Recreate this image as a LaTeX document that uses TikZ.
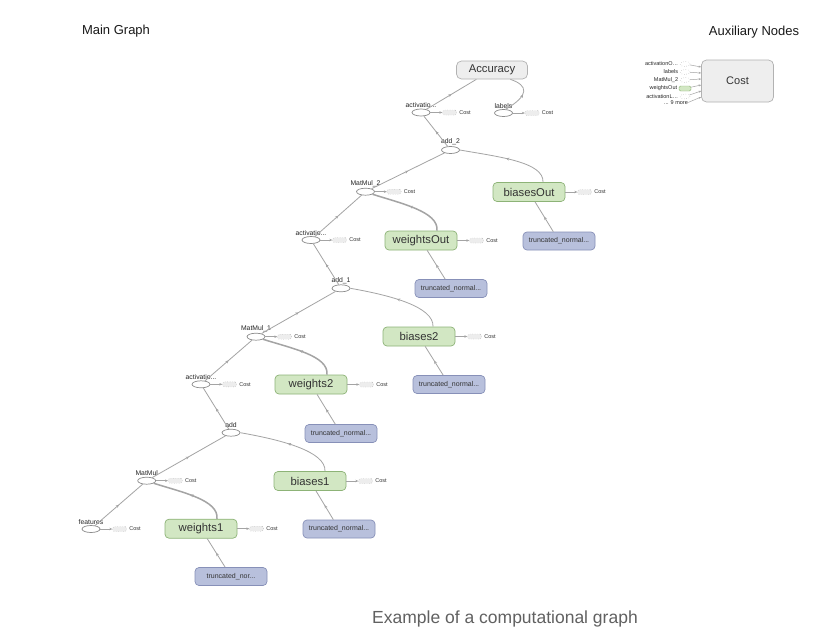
\documentclass[tikz,border=0pt]{standalone}
\usepackage{fontspec}
\setmainfont{Liberation Sans}
\usetikzlibrary{arrows.meta, positioning, calc, shapes.geometric, decorations.markings}

\definecolor{edgecol}{HTML}{A4A4A4}
\definecolor{opline}{HTML}{8C8C8C}
\definecolor{varfill}{HTML}{D2E7C3}
\definecolor{varline}{HTML}{8DB377}
\definecolor{initfill}{HTML}{B8C0DC}
\definecolor{initline}{HTML}{8790B8}
\definecolor{accfill}{HTML}{EEEEEE}
\definecolor{accline}{HTML}{B2B2B2}
\colorlet{costline}{black!40}
\colorlet{costfill}{black!7}
\colorlet{captioncol}{black!62}

\tikzset{
  every node/.style={font=\fontsize{6}{7}\selectfont},
  opnode/.style={ellipse, draw=opline, fill=white, line width=0.7pt,
    minimum width=18pt, minimum height=7pt, inner sep=0pt},
  oplabel/.style={font=\fontsize{6.8}{7}\selectfont, inner sep=0.8pt, text=black!85},
  accnode/.style={rectangle, rounded corners=5pt, draw=accline, fill=accfill,
    line width=0.7pt, minimum width=71pt, minimum height=18pt, inner sep=0pt,
    font=\fontsize{11.3}{12}\selectfont, text=black!80},
  varnode/.style={rectangle, rounded corners=4pt, draw=varline, fill=varfill,
    line width=0.7pt, minimum width=72pt, minimum height=19pt, inner sep=0pt,
    font=\fontsize{11.3}{12}\selectfont, text=black!80},
  initnode/.style={rectangle, rounded corners=4pt, draw=initline, fill=initfill,
    line width=0.7pt, minimum width=72pt, minimum height=18pt, inner sep=0pt,
    font=\fontsize{7}{8}\selectfont, text=black!80},
  costbox/.style={rectangle, draw=costline, dotted, fill=costfill,
    rounded corners=1.5pt, minimum width=14pt, minimum height=5pt, inner sep=0pt},
  costtext/.style={font=\fontsize{5.5}{6}\selectfont, inner sep=0pt, text=black!80},
  flow/.style={draw=edgecol, line width=0.8pt, postaction={decorate},
    decoration={markings, mark=at position 0.5 with
      {\arrow{Stealth[length=3pt, width=3pt]}}}},
  wflow/.style={flow, line width=1.5pt},
  costflow/.style={draw=edgecol, line width=0.6pt, -{Stealth[length=3pt, width=2.5pt]}},
  auxbox/.style={rectangle, rounded corners=5pt, draw=accline, fill=accfill,
    line width=0.7pt, minimum width=72pt, minimum height=42pt, inner sep=0pt,
    font=\fontsize{11}{12}\selectfont, text=black!80},
  auxop/.style={ellipse, draw=costline, dotted, fill=white,
    minimum width=10pt, minimum height=5pt, inner sep=0pt},
  auxvar/.style={rectangle, rounded corners=1.5pt, draw=varline, fill=varfill,
    minimum width=12pt, minimum height=5pt, inner sep=0pt},
  auxtext/.style={font=\fontsize{5.5}{6}\selectfont, inner sep=0pt, text=black!85},
  auxflow/.style={draw=edgecol, line width=0.5pt, -{Stealth[length=2.5pt, width=2pt]}},
  titletext/.style={font=\fontsize{13}{15}\selectfont, text=black!90},
  captiontext/.style={font=\fontsize{17.5}{20}\selectfont, text=captioncol}
}

\begin{document}
\begin{tikzpicture}[x=1pt, y=1pt]

\useasboundingbox[fill=white] (0,0) rectangle (840,-637);

% Titles
\node[titletext] (maintitle) at (116,-31) {Main Graph};
\node[titletext] (auxtitle) at (754,-32) {Auxiliary Nodes};
\node[captiontext] (caption) at (505,-619) {Example of a computational graph};

% Output
\node[accnode] (acc) at (492,-70) {Accuracy};
\node[opnode, label={[oplabel]above:activatio...}] (act3) at (421,-112.5) {};
\node[opnode, label={[oplabel]above:labels}] (lbl) at (503.5,-113) {};
\node[opnode, label={[oplabel]above:add\_2}] (add2) at (450.5,-150) {};

% Output layer
\node[opnode, label={[oplabel]above:MatMul\_2}] (mm2) at (365.5,-191.7) {};
\node[varnode] (bo) at (529,-192) {biasesOut};
\node[initnode] (tnbo) at (559,-241) {truncated\_normal...};
\node[opnode, label={[oplabel]above:activatio...}] (act2) at (311,-240) {};
\node[varnode] (wo) at (421,-240.5) {weightsOut};
\node[initnode] (tnwo) at (451,-288.5) {truncated\_normal...};

% Hidden layer 2
\node[opnode, label={[oplabel]above:add\_1}] (add1) at (341,-288.3) {};
\node[opnode, label={[oplabel]above:MatMul\_1}] (mm1) at (256,-336.7) {};
\node[varnode] (b2) at (419,-336.5) {biases2};
\node[initnode] (tnb2) at (449,-384.5) {truncated\_normal...};
\node[opnode, label={[oplabel]above:activatio...}] (act1) at (201,-384.3) {};
\node[varnode] (w2) at (311,-384.5) {weights2};
\node[initnode] (tnw2) at (341,-433.5) {truncated\_normal...};

% Hidden layer 1
\node[opnode, label={[oplabel]above:add}] (add0) at (231,-432.7) {};
\node[opnode, label={[oplabel]above:MatMul}] (mm0) at (146.7,-480.7) {};
\node[varnode] (b1) at (310,-481) {biases1};
\node[initnode] (tnb1) at (339,-529) {truncated\_normal...};
\node[opnode, label={[oplabel]above:features}] (feat) at (91,-529) {};
\node[varnode] (w1) at (201,-528.7) {weights1};
\node[initnode] (tnw1) at (231,-576.5) {truncated\_nor...};

% Cost tags
\foreach \n in {act3, lbl, mm2, bo, act2, wo, mm1, b2, act1, w2, mm0, b1, feat, w1} {
  \node[costbox, right=12pt of \n] (\n-c) {};
  \node[costtext, right=2.5pt of \n-c] {Cost};
  \draw[costflow] (\n) -- (\n-c);
}

% Data flow
\draw[flow] (act3) -- (acc);
\draw[flow] (lbl.60) .. controls +(24,14) and +(18,-6) .. (acc.-27);
\draw[flow] (add2) -- (act3);
\draw[flow] (mm2) -- (add2);
\draw[flow] ($(bo.north)+(14,0)$) .. controls +(1,20) and +(40,-7) .. (add2.east);
\draw[flow] (act2) -- (mm2);
\draw[wflow] ($(wo.north)+(16,0)$) .. controls +(2,19) and +(28,-9) .. (mm2.-20);
\draw[flow] (tnbo) -- (bo);
\draw[flow] (tnwo) -- (wo);

\draw[flow] (add1) -- (act2);
\draw[flow] (mm1) -- (add1);
\draw[flow] ($(b2.north)+(14,0)$) .. controls +(1,20) and +(40,-7) .. (add1.east);
\draw[flow] (act1) -- (mm1);
\draw[wflow] ($(w2.north)+(16,0)$) .. controls +(2,19) and +(28,-9) .. (mm1.-20);
\draw[flow] (tnb2) -- (b2);
\draw[flow] (tnw2) -- (w2);

\draw[flow] (add0) -- (act1);
\draw[flow] (mm0) -- (add0);
\draw[flow] ($(b1.north)+(15,0)$) .. controls +(1,20) and +(40,-7) .. (add0.east);
\draw[flow] (feat) -- (mm0);
\draw[wflow] ($(w1.north)+(16,0)$) .. controls +(2,19) and +(28,-9) .. (mm0.-20);
\draw[flow] (tnb1) -- (b1);
\draw[flow] (tnw1) -- (w1);

% Auxiliary nodes
\node[auxbox] (auxcost) at (737.5,-81) {Cost};
\foreach \txt/\yy/\ty/\kind [count=\i] in {
    activationO\ldots/64/67/auxop,
    labels/72/73/auxop,
    MatMul\_2/80/79/auxop,
    weightsOut/88.5/85/auxvar,
    activationL\ldots/96.5/91/auxop} {
  \node[\kind] (aux\i) at (685,-\yy) {};
  \node[auxtext, left=1.5pt of aux\i] {\txt};
  \draw[auxflow] (aux\i) -- (auxcost.west |- 0,-\ty);
}
\node[auxtext, anchor=east] (auxmore) at (688,-102.5) {... 9 more};
\draw[auxflow] (auxmore.east) -- (auxcost.west |- 0,-97);

\end{tikzpicture}
\end{document}
